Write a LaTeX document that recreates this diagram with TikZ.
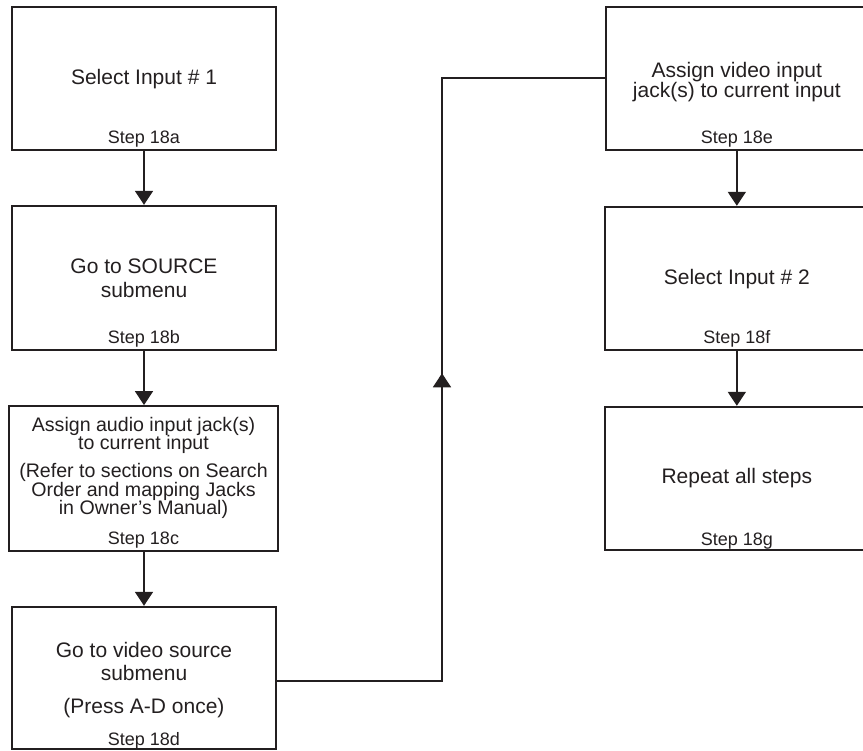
\documentclass[tikz,border=0pt]{standalone}
\usepackage{fontspec}
\setmainfont{Liberation Sans}
\usetikzlibrary{arrows.meta}
\definecolor{ink}{HTML}{231F20}
\tikzset{
  box/.style={draw=ink, line width=1.8pt, rectangle, inner sep=0pt},
  txt/.style={anchor=base, inner sep=0pt, text=ink, font=\fontsize{21}{25}\selectfont},
  tighttxt/.style={anchor=base, inner sep=0pt, text=ink, font=\fontsize{19.6}{22}\selectfont, text height=13pt, text depth=3pt},
  steptxt/.style={anchor=base, inner sep=0pt, text=ink, font=\fontsize{18}{21}\selectfont},
  conn/.style={draw=ink, line width=1.8pt},
  arr/.style={conn, -{Triangle[width=18pt,length=14pt]}}
}
\begin{document}
\begin{tikzpicture}[x=1pt,y=-1pt]
\useasboundingbox (0,0) rectangle (863,751);
\clip (0,0) rectangle (863,751);
% left column boxes
\node[box, minimum width=263.4pt, minimum height=143.3pt] (a) at (144,78.35) {};
\node[box, minimum width=263.4pt, minimum height=144.3pt] (b) at (144,277.85) {};
\node[box, minimum width=269pt, minimum height=144.7pt] (c) at (143.5,478.35) {};
\node[box, minimum width=263.4pt, minimum height=142.6pt] (d) at (144,678) {};
% right column boxes
\node[box, minimum width=262.3pt, minimum height=143.3pt] (e) at (736.85,78.35) {};
\node[box, minimum width=263pt, minimum height=143.3pt] (f) at (736.5,278.35) {};
\node[box, minimum width=263pt, minimum height=143.3pt] (g) at (736.5,478.35) {};
% texts box a
\node[txt] (a1) at (144,84.3) {Select Input \# 1};
\node[steptxt] (as) at (144,144) {Step 18a};
% box b
\node[txt] (b1) at (144,274) {Go to SOURCE};
\node[txt] (b2) at (144,297.3) {submenu};
\node[steptxt] (bs) at (144,344) {Step 18b};
% box c
\node[tighttxt] (c1) at (143.5,431.2) {Assign audio input jack(s)};
\node[tighttxt] (c2) at (143.5,449.8) {to current input};
\node[tighttxt] (c3) at (143.5,477.6) {(Refer to sections on Search};
\node[tighttxt] (c4) at (143.5,496.2) {Order and mapping Jacks};
\node[tighttxt] (c5) at (143.5,514.8) {in Owner’s Manual)};
\node[steptxt] (cs) at (143.5,544) {Step 18c};
% box d
\node[txt] (d1) at (144,657.3) {Go to video source};
\node[txt] (d2) at (144,680) {submenu};
\node[txt] (d3) at (144,713.3) {(Press A-D once)};
\node[steptxt] (ds) at (144,745) {Step 18d};
% box e
\node[txt, text height=13pt, text depth=3pt] (e1) at (736.8,77.3) {Assign video input};
\node[txt, text height=13pt, text depth=3pt] (e2) at (736.8,97.5) {jack(s) to current input};
\node[steptxt] (es) at (736.8,144) {Step 18e};
% box f
\node[txt] (f1) at (736.8,285) {Select Input \# 2};
\node[steptxt] (fs) at (736.8,344) {Step 18f};
% box g
\node[txt] (g1) at (736.8,484) {Repeat all steps};
\node[steptxt] (gs) at (736.8,545) {Step 18g};
% connectors
\draw[arr] (a.south) -- (b.north);
\draw[arr] (b.south) -- (c.north -| b.south);
\draw[arr] (c.south -| d.north) -- (d.north);
\draw[arr] (e.south) -- (e.south |- f.north);
\draw[arr] (f.south -| e.south) -- (e.south |- g.north);
\coordinate (turnB) at (442,681);
\coordinate (turnT) at (442,78.3);
\coordinate (uptip) at (442,373.3);
\draw[conn] (d.east |- turnB) -- (turnB) -- (turnT) -- (e.west |- turnT);
\draw[arr] (turnB) -- (uptip);
\end{tikzpicture}
\end{document}
